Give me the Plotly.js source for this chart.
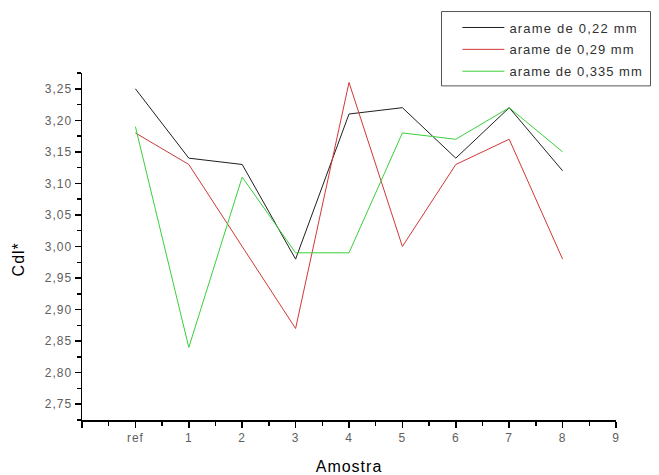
<!DOCTYPE html>
<html>
<head>
<meta charset="utf-8">
<script src="https://cdn.plot.ly/plotly-3.0.1.min.js"></script>
<style>
html,body{margin:0;padding:0;background:#fff;}
#chart{width:659px;height:475px;}
#chart text{letter-spacing:1px;}
#chart text.legendtext{letter-spacing:1.2px;}
#chart .scrollbox{clip-path:none !important;}
</style>
</head>
<body>
<div id="chart"></div>
<script>
// Data
var positions = [0, 1, 2, 3, 4, 5, 6, 7, 8];
var categoryLabels = ['ref', '1', '2', '3', '4', '5', '6', '7', '8'];
var seriesNames = ['arame de 0,22 mm', 'arame de 0,29 mm', 'arame de 0,335 mm'];
var wire022 = [3.25, 3.14, 3.13, 2.98, 3.21, 3.22, 3.14, 3.22, 3.12];
var wire029 = [3.18, 3.13, 3.00, 2.87, 3.26, 3.00, 3.13, 3.17, 2.98];
var wire0335 = [3.19, 2.84, 3.11, 2.99, 2.99, 3.18, 3.17, 3.22, 3.15];
var xTickVals = [-1, 0, 1, 2, 3, 4, 5, 6, 7, 8, 9];
var xTickText = ['', 'ref', '1', '2', '3', '4', '5', '6', '7', '8', '9'];
var yTitle = 'Cdl*';
var xTitle = 'Amostra';

var colors = ['#202020', '#d03838', '#3ad03a'];
var seriesValues = [wire022, wire029, wire0335];
var legendIds = ['legend', 'legend2', 'legend3'];

var traces = seriesValues.map(function (vals, i) {
  return {
    x: positions,
    y: vals,
    type: 'scatter',
    mode: 'lines',
    name: seriesNames[i],
    line: {color: colors[i], width: 1},
    legend: legendIds[i],
    hoverinfo: 'x+y'
  };
});

var fam = 'Liberation Sans, Arial, sans-serif';
var legendFont = {family: fam, size: 13, color: '#303030'};
function leg(ypaper) {
  return {
    x: 0.703, y: ypaper, xanchor: 'left', yanchor: 'middle',
    xref: 'paper', yref: 'paper',
    bgcolor: 'rgba(0,0,0,0)', borderwidth: 0,
    font: legendFont, itemwidth: 42
  };
}

var tickFont = {family: fam, size: 12, color: '#606060'};
var layout = {
  width: 659, height: 475,
  margin: {l: 82, r: 43, t: 70, b: 55},
  paper_bgcolor: '#ffffff', plot_bgcolor: '#ffffff',
  separators: ',.',
  showlegend: true,
  legend: leg(1.131),
  legend2: leg(1.068),
  legend3: leg(1.005),
  xaxis: {
    range: [-1, 9],
    tickmode: 'array', tickvals: xTickVals, ticktext: xTickText,
    showgrid: false, zeroline: false,
    showline: true, linecolor: '#000', linewidth: 1.5,
    ticks: 'outside', ticklen: 6, tickwidth: 1.5, tickcolor: '#000',
    minor: {dtick: 0.5, tick0: -1, ticks: 'outside', ticklen: 4, tickwidth: 1.5, tickcolor: '#000', showgrid: false},
    tickfont: tickFont,
    title: {text: xTitle, font: {family: fam, size: 16, color: '#000'}, standoff: 17}
  },
  yaxis: {
    range: [2.725, 3.275],
    tick0: 2.75, dtick: 0.05, tickformat: '.2f',
    showgrid: false, zeroline: false,
    showline: true, linecolor: '#000', linewidth: 1.5,
    ticks: 'outside', ticklen: 6, tickwidth: 1.5, tickcolor: '#000',
    minor: {dtick: 0.025, tick0: 2.725, ticks: 'outside', ticklen: 4, tickwidth: 1.5, tickcolor: '#000', showgrid: false},
    tickfont: tickFont
  },
  annotations: [{
    text: yTitle, textangle: -90, showarrow: false,
    xref: 'paper', yref: 'paper',
    x: (18 - 82) / 534, y: (420 - 258) / 350,
    xanchor: 'center', yanchor: 'middle',
    font: {family: fam, size: 16, color: '#000'}
  }],
  shapes: [{
    type: 'rect', xref: 'paper', yref: 'paper',
    x0: (441.5 - 82) / 534, x1: (650.5 - 82) / 534,
    y0: (420 - 83) / 350, y1: (420 - 8) / 350,
    line: {color: '#555', width: 1}, fillcolor: 'rgba(0,0,0,0)'
  }]
};

Plotly.newPlot('chart', traces, layout, {displayModeBar: false, staticPlot: true});
</script>
</body>
</html>
